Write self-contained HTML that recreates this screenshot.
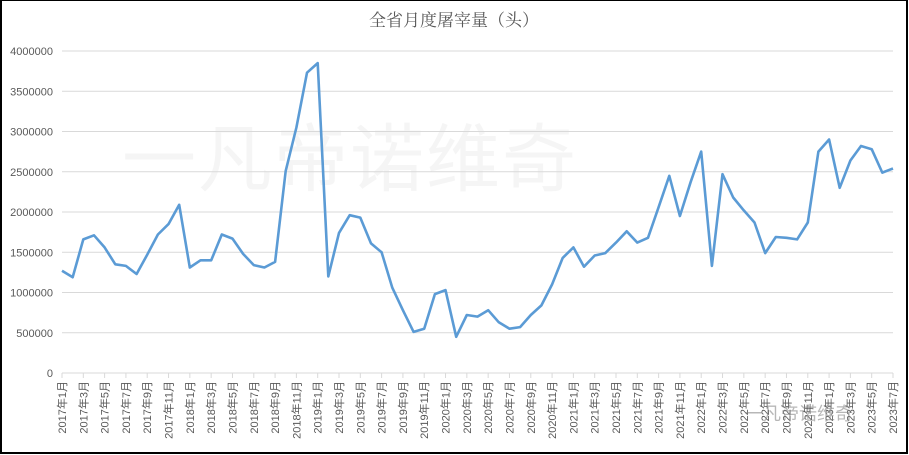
<!DOCTYPE html>
<html><head><meta charset="utf-8"><style>
html,body{margin:0;padding:0;background:#fff;}
svg{display:block;font-family:"Liberation Sans","Noto Sans CJK SC",sans-serif;}
</style></head><body>
<svg width="909" height="455" viewBox="0 0 909 455" xmlns="http://www.w3.org/2000/svg">
<rect x="0" y="0" width="909" height="455" fill="#fff"/>
<rect x="1" y="0" width="906" height="453" fill="none" stroke="#000" stroke-width="2"/>
<text x="454" y="26" text-anchor="middle" font-size="17" fill="#595959" font-family="'Liberation Serif','Noto Serif CJK SC',serif">全省月度屠宰量（头）</text>
<text x="122" y="185" font-size="74" fill="#f5f5f5" letter-spacing="2">一凡帝诺维奇</text>
<g id="grid" stroke="#d9d9d9" stroke-width="1"></g>
<g id="ylab" font-size="11" fill="#595959" text-anchor="end"></g>
<g id="ticks" stroke="#d9d9d9" stroke-width="1"></g>
<g id="xlab" font-size="11" fill="#595959"></g>
<polyline id="line" fill="none" stroke="#5b9bd5" stroke-width="2.6" stroke-linejoin="round"/>
<text x="745" y="420" font-size="18" fill="#888" opacity="0.6">一凡帝诺维奇</text>
</svg>
<script>
var ns="http://www.w3.org/2000/svg";
function el(t,a,p,txt){var e=document.createElementNS(ns,t);for(var k in a)e.setAttribute(k,a[k]);if(txt)e.textContent=txt;document.getElementById(p).appendChild(e);}
var y0=373,scale=322/4e6;
for(var i=0;i<=8;i++){var y=y0-i*500000*scale;el('line',{x1:62,x2:893,y1:y,y2:y},'grid');el('text',{x:53,y:y+4},'ylab',String(i*500000));}
var d=[1270,1190,1660,1710,1560,1350,1330,1230,1470,1720,1850,2090,
1310,1400,1400,1720,1670,1480,1340,1310,1380,2510,3050,3730,
3850,1200,1740,1960,1930,1610,1500,1060,780,510,550,980,
1030,450,720,700,780,630,550,570,720,840,1100,1430,
1560,1320,1460,1490,1620,1760,1620,1680,2060,2450,1950,2370,
2750,1330,2470,2180,2020,1870,1490,1690,1680,1660,1870,2750,
2900,2300,2640,2820,2780,2490,2540];
var dx=831/78,pts=[];
for(var i=0;i<d.length;i++){var x=62+i*dx;pts.push(x.toFixed(1)+','+(y0-d[i]*1000*scale).toFixed(1));
if(i%2==0){el('line',{x1:x,x2:x,y1:373,y2:378},'ticks');
var yr=2017+Math.floor(i/12),m=i%12+1;
el('text',{x:0,y:0,transform:'translate('+(x+4)+',381) rotate(-90)','text-anchor':'end'},'xlab',yr+'年'+m+'月');}}
document.getElementById('line').setAttribute('points',pts.join(' '));
</script>
</body></html>
